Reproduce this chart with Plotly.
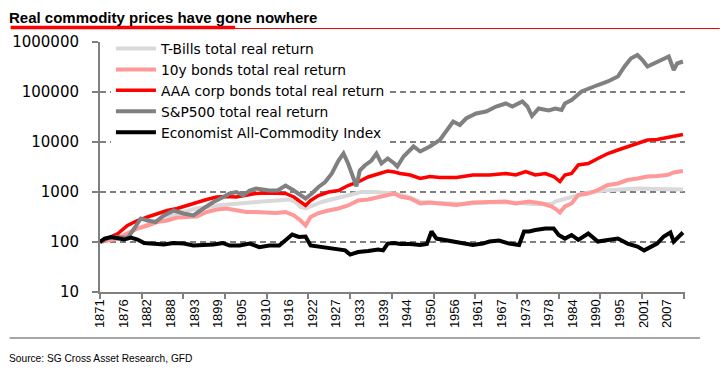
import plotly.graph_objects as go

# ---------------- data ----------------
tbill_years = [1871, 1875.3, 1880, 1884.7, 1889.5, 1894.2, 1899, 1903.7, 1908.4, 1913.2, 1916.3, 1917.9,
               1919.1, 1920.3, 1921.9, 1924.2, 1927.4, 1930.5, 1933.7, 1936.9, 1940, 1941.6, 1945, 1948,
               1952, 1958, 1964, 1970, 1975, 1979.4, 1980.2, 1982.5, 1984.9, 1988.1, 1992, 1996, 2000,
               2004, 2010.8]
tbill_vals = [100, 126, 186, 269, 372, 468, 537, 589, 631, 676, 708, 631,
              501, 468, 537, 631, 741, 851, 1000, 1000, 955, 933, 794, 631,
              603, 575, 617, 617, 575, 575, 646, 741, 832, 977, 1072, 1122, 1175,
              1148, 1122]

bond_years = [1871, 1872.9, 1875.3, 1877.6, 1880, 1882.4, 1884.7, 1887.1, 1889.5, 1891.9, 1894.2, 1896.6,
              1899, 1901.3, 1903.7, 1906.1, 1908.4, 1910.8, 1913.2, 1915.5, 1917.5, 1919.1, 1920.3,
              1921.5, 1923.4, 1925.8, 1928.2, 1930.5, 1932.9, 1935.3, 1937.7, 1940, 1941.6, 1943,
              1945.4, 1947.8, 1950.1, 1952.5, 1956.5, 1960.4, 1964.4, 1968.3, 1970.7, 1973.9, 1977,
              1979.4, 1980.6, 1981.3, 1982.5, 1984.1, 1985.7, 1988.1, 1990.4, 1992.8, 1995.2, 1997.5,
              1999.9, 2002.3, 2004.6, 2007, 2008.6, 2010.8]
bond_vals = [100, 107, 117, 148, 186, 214, 251, 269, 309, 316, 324, 398,
             447, 468, 427, 398, 398, 380, 380, 398, 339, 269, 214,
             316, 380, 427, 468, 537, 676, 708, 794, 851, 933, 813,
             741, 589, 617, 589, 550, 617, 646, 646, 589, 646, 589,
             513, 437, 389, 513, 589, 871, 933, 1096, 1380, 1479, 1738,
             1862, 2042, 2089, 2188, 2455, 2630]

corp_years = [1871, 1872.9, 1875.3, 1877.6, 1880, 1882.4, 1884.7, 1887.1, 1889.5, 1891.9, 1894.2, 1896.6,
              1899, 1901.3, 1903.7, 1906.1, 1908.4, 1910.8, 1913.2, 1915.5, 1917.5, 1919.1, 1920.3,
              1921.5, 1923.4, 1925.8, 1928.2, 1930.5, 1932.9, 1935.3, 1937.7, 1940, 1941.6, 1943,
              1945.4, 1947.8, 1950.1, 1952.5, 1956.5, 1960.4, 1964.4, 1968.3, 1970.7, 1973.1, 1975.4,
              1977.8, 1979.8, 1981.3, 1982.5, 1984.1, 1985.7, 1988.1, 1990.4, 1992.8, 1995.2, 1997.5,
              1999.9, 2002.3, 2004.6, 2007, 2008.6, 2010.8]
corp_vals = [100, 117, 148, 214, 269, 316, 372, 427, 468, 537, 631, 708,
             794, 813, 794, 851, 933, 955, 955, 933, 794, 631, 537,
             676, 851, 1000, 1072, 1349, 1585, 1995, 2344, 2630, 2512, 2344,
             2188, 1862, 2042, 1950, 1950, 2188, 2188, 2344, 2188, 2570, 2188,
             2344, 2042, 1622, 2188, 2344, 3467, 3715, 4677, 5888, 6918, 8128,
             9333, 10965, 11220, 12303, 12882, 14125]

spx_years = [1871, 1872.9, 1875.3, 1877.6, 1879.2, 1880.8, 1882.4, 1884.3, 1886.3, 1888.7, 1891, 1893.4,
             1895.8, 1898.2, 1900.6, 1902.1, 1903.7, 1905.3, 1906.9, 1908.4, 1910, 1911.6, 1913.6,
             1915.5, 1917.1, 1918.7, 1920.3, 1921.8, 1923.4, 1925, 1926.6, 1928.2, 1929.4, 1930.5,
             1931.7, 1932.5, 1933.3, 1934.5, 1936.1, 1937.3, 1938.5, 1940, 1941.6, 1942.3, 1943.8,
             1946.2, 1947.8, 1950.1, 1952.5, 1954.1, 1955.7, 1957.3, 1958.8, 1961.2, 1963.6, 1966,
             1968.3, 1969.9, 1972.3, 1973.5, 1974.6, 1976.2, 1978.6, 1980.2, 1981.7, 1982.5, 1984.1,
             1986.5, 1988.1, 1990.4, 1992.8, 1995.2, 1996.8, 1998.3, 1999.9, 2001.1, 2002.3, 2003.9,
             2005.4, 2007.4, 2008.6, 2009.4, 2010.8]
spx_vals = [100, 120, 126, 120, 186, 295, 269, 251, 339, 427, 372, 339,
            468, 631, 794, 933, 1000, 851, 1072, 1175, 1122, 1072, 1072,
            1349, 1122, 933, 741, 933, 1259, 1585, 2344, 4266, 5888, 3715,
            1995, 1300, 2692, 3388, 4266, 5888, 3715, 4677, 3715, 3236, 5129,
            8128, 6457, 8128, 10965, 16218, 25704, 21878, 29512, 37154, 40738, 51286,
            58884, 51286, 64565, 51286, 33113, 46774, 42658, 46774, 43652, 58884, 69183,
            102329, 117490, 138038, 162181, 204174, 323594, 467735, 549541, 436516, 323594, 371535,
            436516, 512861, 275423, 371535, 407380]

cmdty_years = [1871, 1872.1, 1873.7, 1875.3, 1876.8, 1878.4, 1880, 1881.6, 1884, 1886.3, 1888.7, 1891.1,
               1893.4, 1895.8, 1898.2, 1900.5, 1902.1, 1904.5, 1906.9, 1909.2, 1911.6, 1914, 1915.5,
               1917.1, 1918.7, 1920.3, 1921.5, 1923.4, 1925.8, 1928.2, 1929.8, 1931, 1932.9, 1935.3,
               1937.7, 1938.9, 1940, 1941.6, 1943, 1945.4, 1947.8, 1949.4, 1950.5, 1951.7, 1953.3,
               1955.7, 1958.1, 1960.4, 1962.8, 1964.4, 1966.7, 1969.1, 1971.5, 1972.7, 1973.9, 1975.4,
               1977.8, 1979.8, 1981, 1982.5, 1984.1, 1985.7, 1988.1, 1990.4, 1992.8, 1995.2, 1997.5,
               1999.9, 2001.5, 2003.1, 2004.6, 2006.2, 2007.8, 2008.6, 2009.8, 2010.8]
cmdty_vals = [100, 117, 126, 117, 112, 123, 112, 95, 93, 89, 95, 93,
              85, 85, 89, 95, 85, 85, 93, 79, 85, 85, 107,
              141, 126, 129, 85, 81, 78, 71, 68, 56, 63, 66,
              71, 68, 93, 95, 91, 91, 87, 91, 162, 117, 110,
              102, 93, 87, 93, 102, 107, 93, 87, 162, 162, 174,
              186, 186, 138, 117, 138, 110, 148, 102, 110, 117, 93,
              81, 68, 78, 93, 129, 155, 102, 132, 155]

x_tick_labels = ["1871", "1876", "1882", "1888", "1893", "1899", "1905", "1910", "1916", "1922",
                 "1927", "1933", "1939", "1944", "1950", "1956", "1961", "1967", "1973", "1978",
                 "1984", "1990", "1995", "2001", "2007"]
y_tick_vals = [10, 100, 1000, 10000, 100000, 1000000]
y_tick_labels = ["10", "100", "1000", "10000", "100000", "1000000"]

# ---------------- figure ----------------
W, H = 720, 369
PL, PR, PT, PB = 96, 685, 42, 292


def px(xp):
    return (xp - PL) / (PR - PL)


def py(yp):
    return (PB - yp) / (PB - PT)


series = [
    ("T-Bills total real return", tbill_years, tbill_vals, "#d9d9d9", 4),
    ("10y bonds total real return", bond_years, bond_vals, "#ff9999", 4),
    ("AAA corp bonds total real return", corp_years, corp_vals, "#ff0000", 3.5),
    ("S&P500 total real return", spx_years, spx_vals, "#808080", 4),
    ("Economist All-Commodity Index", cmdty_years, cmdty_vals, "#000000", 4),
]

fig = go.Figure()
for name, xs, ys, col, w in series:
    fig.add_trace(go.Scatter(x=xs, y=ys, name=name, mode="lines",
                             line=dict(color=col, width=w)))

# label positions: one label every 68 months
tick_pos = [1871 + k * 68 / 12 for k in range(len(x_tick_labels))]

fig.update_layout(
    width=W, height=H,
    margin=dict(l=PL, r=W - PR, t=PT, b=H - PB),
    paper_bgcolor="white", plot_bgcolor="white",
    showlegend=True,
    legend=dict(x=px(107), y=py(33), xanchor="left", yanchor="top",
                bgcolor="white", borderwidth=0,
                font=dict(family="DejaVu Sans", size=13.8, color="#000000"),
                tracegroupgap=0, itemwidth=40),
    xaxis=dict(range=[1871, 2011.3], showgrid=False, zeroline=False,
               showline=True, linecolor="#808080", linewidth=2,
               tickmode="array", tickvals=tick_pos, ticktext=x_tick_labels,
               ticks="", tickangle=-90,
               tickfont=dict(family="Liberation Sans", size=13, color="#000000"),
               minor=dict(ticks="outside", tickmode="linear", tick0=1871, dtick=10,
                          ticklen=5, tickcolor="#808080", tickwidth=2, showgrid=False)),
    yaxis=dict(type="log", range=[1, 6], showline=True, linecolor="#808080", linewidth=2,
               tickmode="array", tickvals=y_tick_vals, ticktext=y_tick_labels,
               ticks="outside", ticklen=6, tickcolor="#808080", tickwidth=2,
               ticklabelstandoff=10,
               tickfont=dict(family="DejaVu Sans", size=15, color="#000000"),
               showgrid=True, gridcolor="#808080", gridwidth=1.5, griddash="6px,4px",
               zeroline=False),
    annotations=[
        dict(text="<b>Real commodity prices have gone nowhere</b>", xref="paper", yref="paper",
             x=px(2), y=py(18), xanchor="left", yanchor="middle", showarrow=False,
             font=dict(family="Liberation Sans", size=15, color="#000000")),
        dict(text="Source: SG Cross Asset Research, GFD", xref="paper", yref="paper",
             x=px(2), y=py(358), xanchor="left", yanchor="middle", showarrow=False,
             font=dict(family="Liberation Sans", size=10.2, color="#000000")),
    ],
    shapes=[
        dict(type="line", xref="paper", yref="paper", x0=px(232), x1=px(720), y0=py(28.5), y1=py(28.5),
             line=dict(color="#ff0000", width=1)),
        dict(type="line", xref="paper", yref="paper", x0=px(6), x1=px(232), y0=py(27.5), y1=py(27.5),
             line=dict(color="#ff0000", width=3.5)),
        dict(type="line", xref="paper", yref="paper", x0=px(5), x1=px(700), y0=py(338), y1=py(338),
             line=dict(color="#a6a6a6", width=2)),
    ],
)

fig.write_html("out.html", config={"displayModeBar": False},
               post_script="document.body.style.margin='0';")
